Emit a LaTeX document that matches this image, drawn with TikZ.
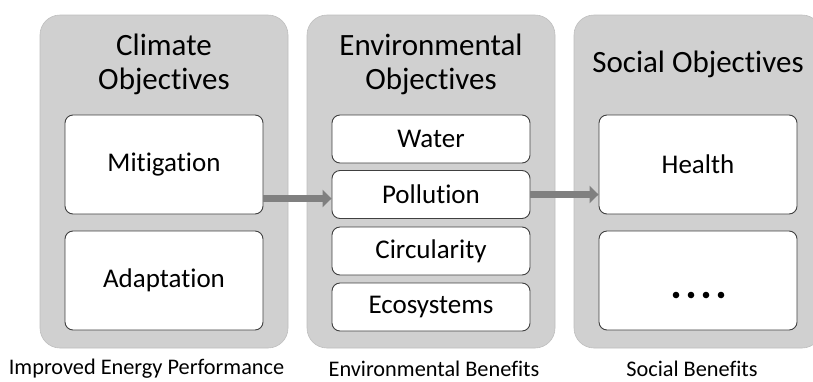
\documentclass[tikz,border=0pt]{standalone}
\usepackage{fontspec}
\setmainfont{Carlito}[Ligatures=NoCommon]
\usetikzlibrary{arrows.meta,calc}
\definecolor{panelgray}{RGB}{208,208,208}
\definecolor{paneledge}{RGB}{190,190,190}
\definecolor{boxedge}{RGB}{64,64,64}
\definecolor{arrowgray}{RGB}{128,128,128}
\begin{document}
\begin{tikzpicture}[x=1pt,y=-1pt,
  panel/.style={fill=panelgray,draw=paneledge,line width=0.6pt,rounded corners=20pt},
  inbox/.style={draw=boxedge,fill=white,line width=0.9pt,rounded corners=8pt},
  titletext/.style={font=\fontsize{31}{34}\selectfont,align=center,text=black},
  boxtext/.style={font=\fontsize{27}{30}\selectfont,text=black},
  bottomtext/.style={font=\fontsize{22.3}{26}\selectfont,text=black},
  arr/.style={draw=arrowgray,line width=7pt,-{Triangle[length=9pt,width=17pt]}}]
\useasboundingbox (0,0) rectangle (813,381);
\clip (0,0) rectangle (813,381);
% panels
\path[panel] (40,15) rectangle (288,348);
\path[panel] (307,15) rectangle (555,348);
\path[panel] (574,15) rectangle (822,348);
% titles
\node[titletext] (t1) at (164,64) {Climate\\Objectives};
\node[titletext] (t2) at (431,64) {Environmental\\Objectives};
\node[titletext] (t3) at (698,64) {Social Objectives};
% panel 1 boxes
\node[inbox,minimum width=198pt,minimum height=99pt,boxtext] (mit) at (164,164.5) {Mitigation};
\node[inbox,minimum width=198pt,minimum height=99pt,boxtext] (ada) at (164,280.5) {Adaptation};
% panel 2 boxes
\node[inbox,minimum width=198pt,minimum height=48pt,boxtext] (wat) at (431,139) {Water};
\node[inbox,minimum width=198pt,minimum height=48pt,boxtext] (pol) at (431,194.5) {Pollution};
\node[inbox,minimum width=198pt,minimum height=48pt,boxtext] (cir) at (431,251) {Circularity};
\node[inbox,minimum width=198pt,minimum height=48pt,boxtext] (eco) at (431,307) {Ecosystems};
% panel 3 boxes
\node[inbox,minimum width=198pt,minimum height=99pt,boxtext] (hea) at (698,164.5) {Health};
\node[inbox,minimum width=198pt,minimum height=99pt,boxtext] (dots) at (698,280.5) {};
\foreach \i in {0,1,2,3} \fill (676+\i*15,295) circle (3.3pt);
% arrows
\coordinate (a1) at ($(mit.east)+(0,34)$);
\draw[arr] (a1) -- (a1 -| pol.west);
\draw[arr] (pol.east) -- (pol.east -| hea.west);
% bottom labels
\node[bottomtext] (b1) at (146.5,369) {Improved Energy Performance};
\node[bottomtext] (b2) at (434,369) {Environmental Benefits};
\node[bottomtext] (b3) at (692,369) {Social Benefits};
\end{tikzpicture}
\end{document}
